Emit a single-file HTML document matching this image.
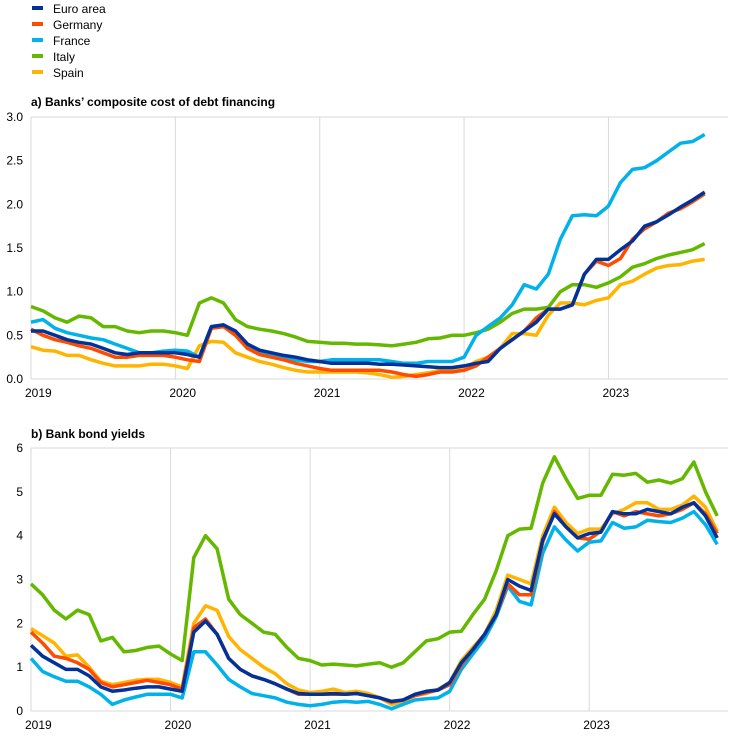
<!DOCTYPE html>
<html><head><meta charset="utf-8"><style>
body{margin:0;background:#fff;width:744px;height:736px;overflow:hidden;font-family:"Liberation Sans",Arial,sans-serif;}
</style></head><body>
<svg id="s" width="744" height="736" xmlns="http://www.w3.org/2000/svg" font-family="Liberation Sans, Arial, sans-serif" font-size="12" fill="#000">
<g id="leg"></g>
<text x="31" y="106" font-weight="bold" font-size="12">a) Banks’ composite cost of debt financing</text>
<text x="31" y="438" font-weight="bold" font-size="12">b) Bank bond yields</text>
<g id="a"></g><g id="b"></g>
</svg>
<script>
const NS="http://www.w3.org/2000/svg";
function el(p,t,a,txt){const e=document.createElementNS(NS,t);for(const k in a)e.setAttribute(k,a[k]);if(txt!==undefined)e.textContent=txt;p.appendChild(e);return e;}
const cols={ea:"#003299",de:"#FF4B00",fr:"#00B1EA",it:"#65B800",es:"#FFB400"};
const names=[["ea","Euro area"],["de","Germany"],["fr","France"],["it","Italy"],["es","Spain"]];
const leg=document.getElementById("leg");
names.forEach((n,i)=>{el(leg,"rect",{x:32,y:6+i*16,width:11,height:4,fill:cols[n[0]]});el(leg,"text",{x:53,y:13+i*16},n[1]);});
const A={
ea:[0.55,0.55,0.5,0.45,0.42,0.4,0.35,0.3,0.28,0.3,0.3,0.3, 0.3,0.28,0.25,0.6,0.62,0.55,0.4,0.33,0.3,0.27,0.25,0.22, 0.2,0.18,0.18,0.18,0.18,0.17,0.17,0.16,0.15,0.14,0.13,0.13, 0.15,0.18,0.2,0.35,0.45,0.55,0.65,0.8,0.8,0.85,1.2,1.37, 1.37,1.48,1.58,1.75,1.8,1.88,1.97,2.05,2.14],
de:[0.57,0.5,0.45,0.42,0.38,0.35,0.3,0.25,0.25,0.27,0.27,0.27, 0.25,0.22,0.2,0.58,0.6,0.5,0.35,0.28,0.25,0.22,0.18,0.15, 0.12,0.1,0.1,0.1,0.1,0.1,0.08,0.05,0.03,0.05,0.08,0.08, 0.1,0.15,0.25,0.35,0.45,0.55,0.7,0.8,0.8,0.85,1.2,1.35, 1.3,1.38,1.6,1.72,1.8,1.9,1.95,2.03,2.12],
fr:[0.65,0.68,0.58,0.53,0.5,0.47,0.45,0.4,0.35,0.3,0.3,0.32, 0.33,0.32,0.25,0.6,0.62,0.52,0.38,0.3,0.28,0.25,0.22,0.2, 0.2,0.22,0.22,0.22,0.22,0.22,0.2,0.18,0.18,0.2,0.2,0.2, 0.25,0.5,0.6,0.7,0.85,1.08,1.03,1.2,1.6,1.87,1.88,1.87, 1.98,2.25,2.4,2.42,2.5,2.6,2.7,2.72,2.8],
it:[0.83,0.78,0.7,0.65,0.72,0.7,0.6,0.6,0.55,0.53,0.55,0.55, 0.53,0.5,0.87,0.93,0.87,0.68,0.6,0.57,0.55,0.52,0.48,0.43, 0.42,0.41,0.41,0.4,0.4,0.39,0.38,0.4,0.42,0.46,0.47,0.5, 0.5,0.53,0.57,0.65,0.75,0.8,0.8,0.82,1.0,1.08,1.08,1.05, 1.1,1.17,1.28,1.32,1.38,1.42,1.45,1.48,1.55],
es:[0.37,0.33,0.32,0.27,0.27,0.22,0.18,0.15,0.15,0.15,0.17,0.17, 0.15,0.12,0.38,0.43,0.42,0.3,0.25,0.2,0.17,0.13,0.1,0.08, 0.08,0.08,0.08,0.08,0.07,0.05,0.02,0.03,0.05,0.07,0.1,0.12, 0.12,0.2,0.25,0.35,0.52,0.52,0.5,0.73,0.87,0.87,0.85,0.9, 0.93,1.08,1.12,1.2,1.27,1.3,1.31,1.35,1.37]};
const B={
ea:[1.5,1.25,1.1,0.95,0.95,0.8,0.55,0.45,0.48,0.52,0.55,0.55, 0.5,0.45,1.8,2.05,1.75,1.2,0.95,0.8,0.72,0.62,0.5,0.4, 0.38,0.38,0.4,0.38,0.4,0.35,0.3,0.22,0.25,0.38,0.45,0.48, 0.65,1.1,1.4,1.75,2.2,3.0,2.85,2.75,3.9,4.5,4.2,3.95, 4.05,4.08,4.55,4.5,4.5,4.6,4.55,4.5,4.65,4.75,4.45,3.95],
de:[1.8,1.55,1.25,1.2,1.1,0.95,0.65,0.55,0.6,0.65,0.7,0.65, 0.6,0.5,1.9,2.1,1.75,1.2,0.95,0.8,0.72,0.62,0.5,0.38, 0.38,0.38,0.38,0.38,0.4,0.35,0.3,0.2,0.25,0.35,0.42,0.48, 0.6,1.05,1.4,1.75,2.2,2.9,2.65,2.65,3.85,4.55,4.2,3.95, 3.92,4.1,4.55,4.45,4.55,4.5,4.45,4.5,4.6,4.75,4.5,4.05],
fr:[1.2,0.9,0.78,0.68,0.68,0.55,0.38,0.15,0.25,0.32,0.38,0.38, 0.38,0.3,1.35,1.35,1.05,0.72,0.55,0.4,0.35,0.3,0.2,0.15, 0.12,0.15,0.2,0.22,0.2,0.22,0.15,0.05,0.15,0.25,0.28,0.3, 0.45,0.95,1.3,1.65,2.15,2.85,2.5,2.42,3.6,4.2,3.9,3.65, 3.85,3.88,4.3,4.17,4.2,4.35,4.32,4.3,4.4,4.55,4.25,3.8],
it:[2.9,2.65,2.3,2.1,2.3,2.2,1.6,1.68,1.35,1.38,1.45,1.48, 1.3,1.15,3.5,4.0,3.7,2.55,2.2,2.0,1.8,1.75,1.45,1.2, 1.15,1.05,1.07,1.05,1.03,1.07,1.1,1.0,1.1,1.35,1.6,1.65, 1.8,1.82,2.2,2.55,3.2,4.0,4.15,4.17,5.2,5.8,5.3,4.85, 4.92,4.92,5.4,5.38,5.42,5.22,5.27,5.2,5.3,5.68,5.0,4.45],
es:[1.88,1.72,1.55,1.25,1.28,1.0,0.68,0.6,0.65,0.7,0.72,0.72, 0.65,0.55,2.0,2.4,2.3,1.7,1.4,1.2,1.0,0.85,0.62,0.48, 0.42,0.45,0.5,0.42,0.45,0.4,0.3,0.15,0.22,0.35,0.4,0.5, 0.65,1.15,1.45,1.75,2.3,3.1,3.0,2.9,4.0,4.65,4.3,4.05, 4.15,4.15,4.5,4.6,4.75,4.75,4.6,4.6,4.7,4.9,4.65,4.1]};
function chart(g,cfg,data){
 const {x0,x1,yTop,yBot,vmax,mw,ticks,fmt}=cfg;
 const yv=v=>yBot-(v/vmax)*(yBot-yTop);
 for(let k=0;k<5;k++){const x=x0+k*mw*12;
  if(k>0)el(g,"line",{x1:x,y1:yTop,x2:x,y2:yBot,stroke:"#d9d9d9","stroke-width":1});
  el(g,"text",{x:x-6,y:yBot+18},String(2019+k));}
 el(g,"line",{x1:x0,y1:yTop,x2:x1,y2:yTop,stroke:"#d9d9d9"});
 el(g,"line",{x1:x0,y1:yTop,x2:x0,y2:yBot,stroke:"#d9d9d9"});
 el(g,"line",{x1:x0,y1:yBot,x2:x1,y2:yBot,stroke:"#d9d9d9"});
 ticks.forEach(t=>el(g,"text",{x:23,y:yv(t)+4,"text-anchor":"end"},fmt(t)));
 ["es","it","fr","de","ea"].forEach(c=>{
  const pts=data[c].map((v,i)=>(x0+i*mw).toFixed(1)+","+yv(v).toFixed(1)).join(" ");
  el(g,"polyline",{points:pts,fill:"none",stroke:cols[c],"stroke-width":3.5,"stroke-linejoin":"round"});});
}
chart(document.getElementById("a"),{x0:31,x1:728,yTop:117,yBot:379,vmax:3,mw:12.03,ticks:[0,0.5,1,1.5,2,2.5,3],fmt:t=>t.toFixed(1)},A);
chart(document.getElementById("b"),{x0:31,x1:728,yTop:448,yBot:711,vmax:6,mw:11.63,ticks:[0,1,2,3,4,5,6],fmt:t=>String(t)},B);
</script>
</body></html>
